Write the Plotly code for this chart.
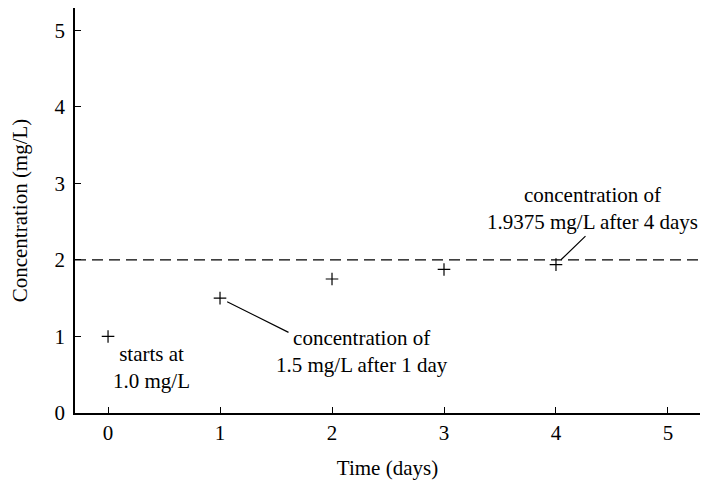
import plotly.graph_objects as go

# Data
days = [0, 1, 2, 3, 4]
concentration = [1.0, 1.5, 1.75, 1.875, 1.9375]
asymptote = 2.0
x_ticks = [0, 1, 2, 3, 4, 5]
y_ticks = [0, 1, 2, 3, 4, 5]

FONT = "Liberation Serif, Times New Roman, serif"
FS = 21

fig = go.Figure()
fig.add_trace(go.Scatter(
    x=days, y=concentration, mode="markers",
    marker=dict(symbol="cross-thin", size=9, line=dict(color="black", width=1.2), color="black"),
    showlegend=False, hoverinfo="skip",
))

fig.add_shape(type="line", xref="paper", yref="y", x0=0, x1=1, y0=asymptote, y1=asymptote,
              line=dict(color="black", width=1.3, dash="11px,6px"))

# Arrow lines
fig.add_annotation(x=days[1], y=concentration[1], ax=70, ay=35, text="", showarrow=True,
                   arrowhead=0, arrowwidth=1.2, arrowcolor="black", standoff=8)
fig.add_annotation(x=days[4], y=concentration[4], ax=31, ay=-30, text="", showarrow=True,
                   arrowhead=0, arrowwidth=1.2, arrowcolor="black", standoff=7)

tfont = dict(family=FONT, size=FS, color="black")
fig.add_annotation(x=0.39, y=0.59, text="starts at<br>1.0 mg/L", showarrow=False, font=tfont)
fig.add_annotation(x=2.27, y=0.80, text="concentration of<br>1.5 mg/L after 1 day", showarrow=False, font=tfont)
fig.add_annotation(x=4.33, y=2.67, text="concentration of<br>1.9375 mg/L after 4 days", showarrow=False, font=tfont)

axis_common = dict(showline=True, linecolor="black", linewidth=1.5, ticks="inside", ticklen=6,
                   tickwidth=1.3, tickcolor="black", showgrid=False, zeroline=False, automargin=False,
                   tickfont=dict(family=FONT, size=FS, color="black"))

fig.update_xaxes(range=[-0.295, 5.286], tickvals=x_ticks, ticktext=[str(t) for t in x_ticks],
                 title=dict(text="Time (days)", font=dict(family=FONT, size=FS, color="black"), standoff=17),
                 **axis_common)
fig.update_yaxes(range=[0, 5.29], tickvals=y_ticks, ticktext=[str(t) for t in y_ticks],
                 ticklabelstandoff=4,
                 title=dict(text="Concentration (mg/L)", font=dict(family=FONT, size=FS, color="black"), standoff=21),
                 **axis_common)

fig.update_layout(width=702, height=480, margin=dict(l=75, r=2, t=8, b=67),
                  plot_bgcolor="white", paper_bgcolor="white", showlegend=False,
                  font=dict(family=FONT))

fig.write_html("out.html", config={"displayModeBar": False},
               post_script="document.body.style.margin='0';document.body.style.padding='0';")
